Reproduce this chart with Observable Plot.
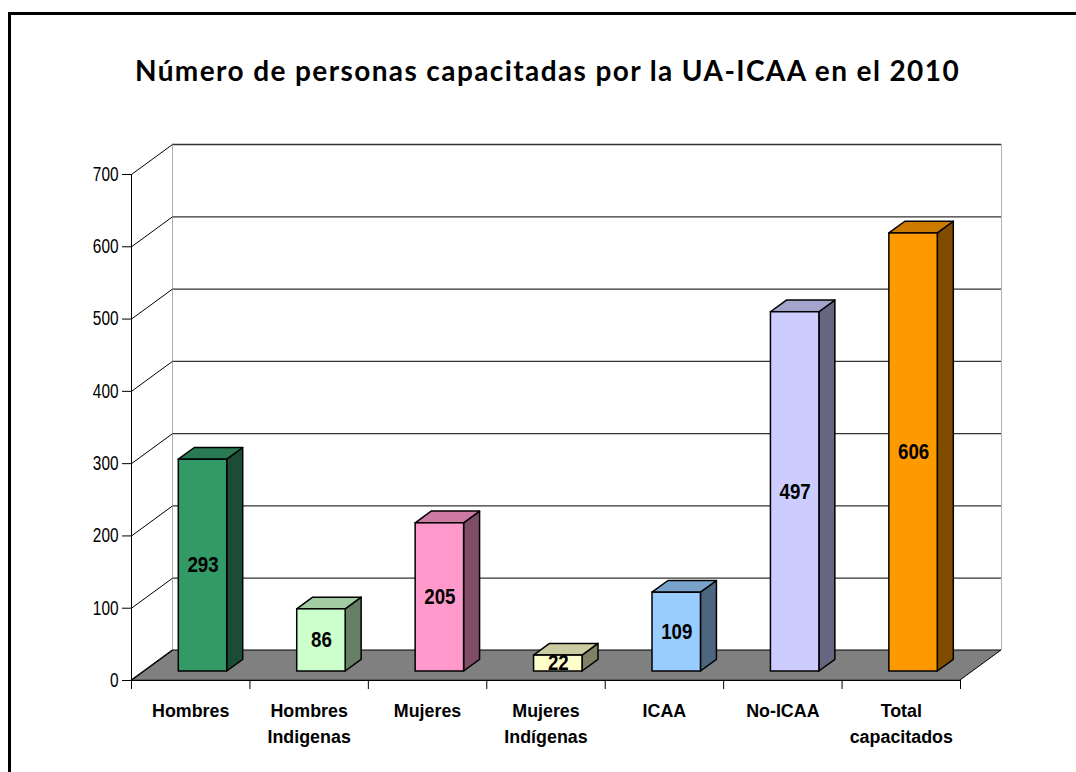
<!DOCTYPE html>
<html><head><meta charset="utf-8">
<script src="https://cdn.jsdelivr.net/npm/d3@7"></script>
<script src="https://cdn.jsdelivr.net/npm/@observablehq/plot@0.6"></script>
<style>
html,body{margin:0;padding:0;background:#fff;overflow:hidden;width:1076px;height:772px;}
#frame{position:absolute;left:8px;top:12px;width:1200px;height:900px;border:3px solid #000;box-sizing:border-box;}
#title{position:absolute;left:8px;width:1079px;top:57px;text-align:center;font-family:Lato,"Open Sans",sans-serif;font-weight:700;font-size:28px;line-height:26px;letter-spacing:1.4px;color:#000;white-space:nowrap;}
#chart{position:absolute;left:0;top:100px;}
</style></head><body>
<div id="frame"></div>
<div id="title">Número de personas capacitadas por la UA-ICAA en el 2010</div>
<div id="chart"></div>
<script>
// ---- data ----
const categories = ["Hombres", "Hombres\nIndigenas", "Mujeres", "Mujeres\nIndígenas", "ICAA", "No-ICAA", "Total\ncapacitados"];
const values = [293, 86, 205, 22, 109, 497, 606];
const yTicks = [0, 100, 200, 300, 400, 500, 600, 700];
const frontColors = ["#339966", "#CCFFCC", "#FF99CC", "#FFFFCC", "#99CCFF", "#CCCCFF", "#FF9900"];

// ---- styles / geometry ----
function shade(c, k) { const r = d3.rgb(c); return d3.rgb(r.r * k, r.g * k, r.b * k).formatHex(); }
const topColors = frontColors.map(c => shade(c, 0.8));
const sideColors = frontColors.map(c => shade(c, 0.5));

const n = categories.length;
const yMax = 700;
const xRange = [131, 960];
const yRange = [580, 580 - 700 * 0.72286];
const pxX = (xRange[1] - xRange[0]) / n;
const pxY = (yRange[0] - yRange[1]) / yMax;
const DX = 41 / pxX;     // full depth in x units
const DY = 30 / pxY;     // full depth in y units
const W = 0.409;         // bar width (category units)
const F0 = 0.3, F1 = 0.69; // bar depth fraction
const FONT = '"Liberation Sans",Arial,sans-serif';

const bars = values.map((v, i) => {
  const L = i + 0.5 - W / 2 + F0 * DX;
  return {i, v, L, R: L + W};
});
const dd = (F1 - F0);
const topPts = bars.flatMap(b => [
  {i: b.i, y: b.v + F0 * DY, x1: b.L, x2: b.R},
  {i: b.i, y: b.v + F1 * DY, x1: b.L + dd * DX, x2: b.R + dd * DX}
]);
const sidePts = bars.flatMap(b => [
  {i: b.i, x: b.R, y1: F0 * DY, y2: b.v + F0 * DY},
  {i: b.i, x: b.R + dd * DX, y1: F1 * DY, y2: b.v + F1 * DY}
]);
const floorPts = [{y: 0, x1: 0, x2: n}, {y: DY, x1: DX, x2: n + DX}];

const catFont = 18.8;
const chart = Plot.plot({
  width: 1076,
  height: 672,
  margin: 0,
  x: {domain: [0, n], range: xRange, axis: null},
  y: {domain: [0, yMax], range: yRange, axis: null},
  color: {type: "identity"},
  style: {background: "transparent", overflow: "visible"},
  marks: [
    // back wall gridlines
    Plot.ruleY(yTicks.filter(t => t > 0), {y: t => t + DY, x1: DX, x2: n + DX, stroke: "#333", strokeWidth: 1.3}),
    // back wall vertical edges
    Plot.ruleX([DX, n + DX], {x: d => d, y1: DY, y2: yMax + DY, stroke: "#b0b0b0", strokeWidth: 1}),
    // floor
    Plot.areaX(floorPts, {y: "y", x1: "x1", x2: "x2", fill: "#808080", stroke: "#000", strokeWidth: 1}),
    // left wall diagonals
    Plot.link(yTicks, {x1: 0, y1: t => t, x2: DX, y2: t => t + DY, stroke: "#000", strokeWidth: 1}),
    // y axis line and ticks
    Plot.ruleX([0], {x: d => d, y1: 0, y2: yMax, stroke: "#000", strokeWidth: 1}),
    Plot.ruleY(yTicks, {y: t => t, x1: -9 / pxX, x2: 0, stroke: "#000", strokeWidth: 1}),
    Plot.text(yTicks, {x: 0, y: t => t, text: t => String(t), textAnchor: "end", dx: -13, fontSize: 20, fontFamily: FONT, fill: "#000"}),
    // x axis line and ticks
    Plot.ruleY([0], {y: d => d, x1: 0, x2: n, stroke: "#000", strokeWidth: 1}),
    Plot.ruleX(d3.range(n + 1), {x: d => d, y1: -9 / pxY, y2: 0, stroke: "#000", strokeWidth: 1}),
    Plot.text(categories, {x: (d, i) => i + 0.5, y: 0, text: d => d, lineAnchor: "top", dy: 18, lineHeight: 26 / catFont, fontSize: catFont, fontWeight: "bold", fontFamily: FONT, fill: "#000"}),
    // bars: side, top, front
    Plot.areaY(sidePts, {x: "x", y1: "y1", y2: "y2", z: "i", fill: d => sideColors[d.i], stroke: "#000", strokeWidth: 1.5, strokeLinejoin: "round"}),
    Plot.areaX(topPts, {y: "y", x1: "x1", x2: "x2", z: "i", fill: d => topColors[d.i], stroke: "#000", strokeWidth: 1.5, strokeLinejoin: "round"}),
    Plot.rect(bars, {x1: "L", x2: "R", y1: F0 * DY, y2: d => d.v + F0 * DY, fill: d => frontColors[d.i], stroke: "#000", strokeWidth: 1.5}),
    Plot.text(bars, {x: d => (d.L + d.R) / 2, y: d => d.v / 2 + F0 * DY, text: d => String(d.v), fontSize: 21.5, fontWeight: "bold", fontFamily: FONT, fill: "#000"})
  ]
});
// horizontally condense the text, as in the original (narrow sans)
const squeeze = [0.77, 0.95, 0.87];
d3.select(chart).selectAll('g[aria-label="text"]').each(function(_, k) {
  const s = squeeze[k] ?? 1;
  d3.select(this).selectAll("text").attr("transform", function() {
    return (this.getAttribute("transform") || "") + ` scale(${s},1)`;
  });
});
document.getElementById("chart").appendChild(chart);
</script>
</body></html>
